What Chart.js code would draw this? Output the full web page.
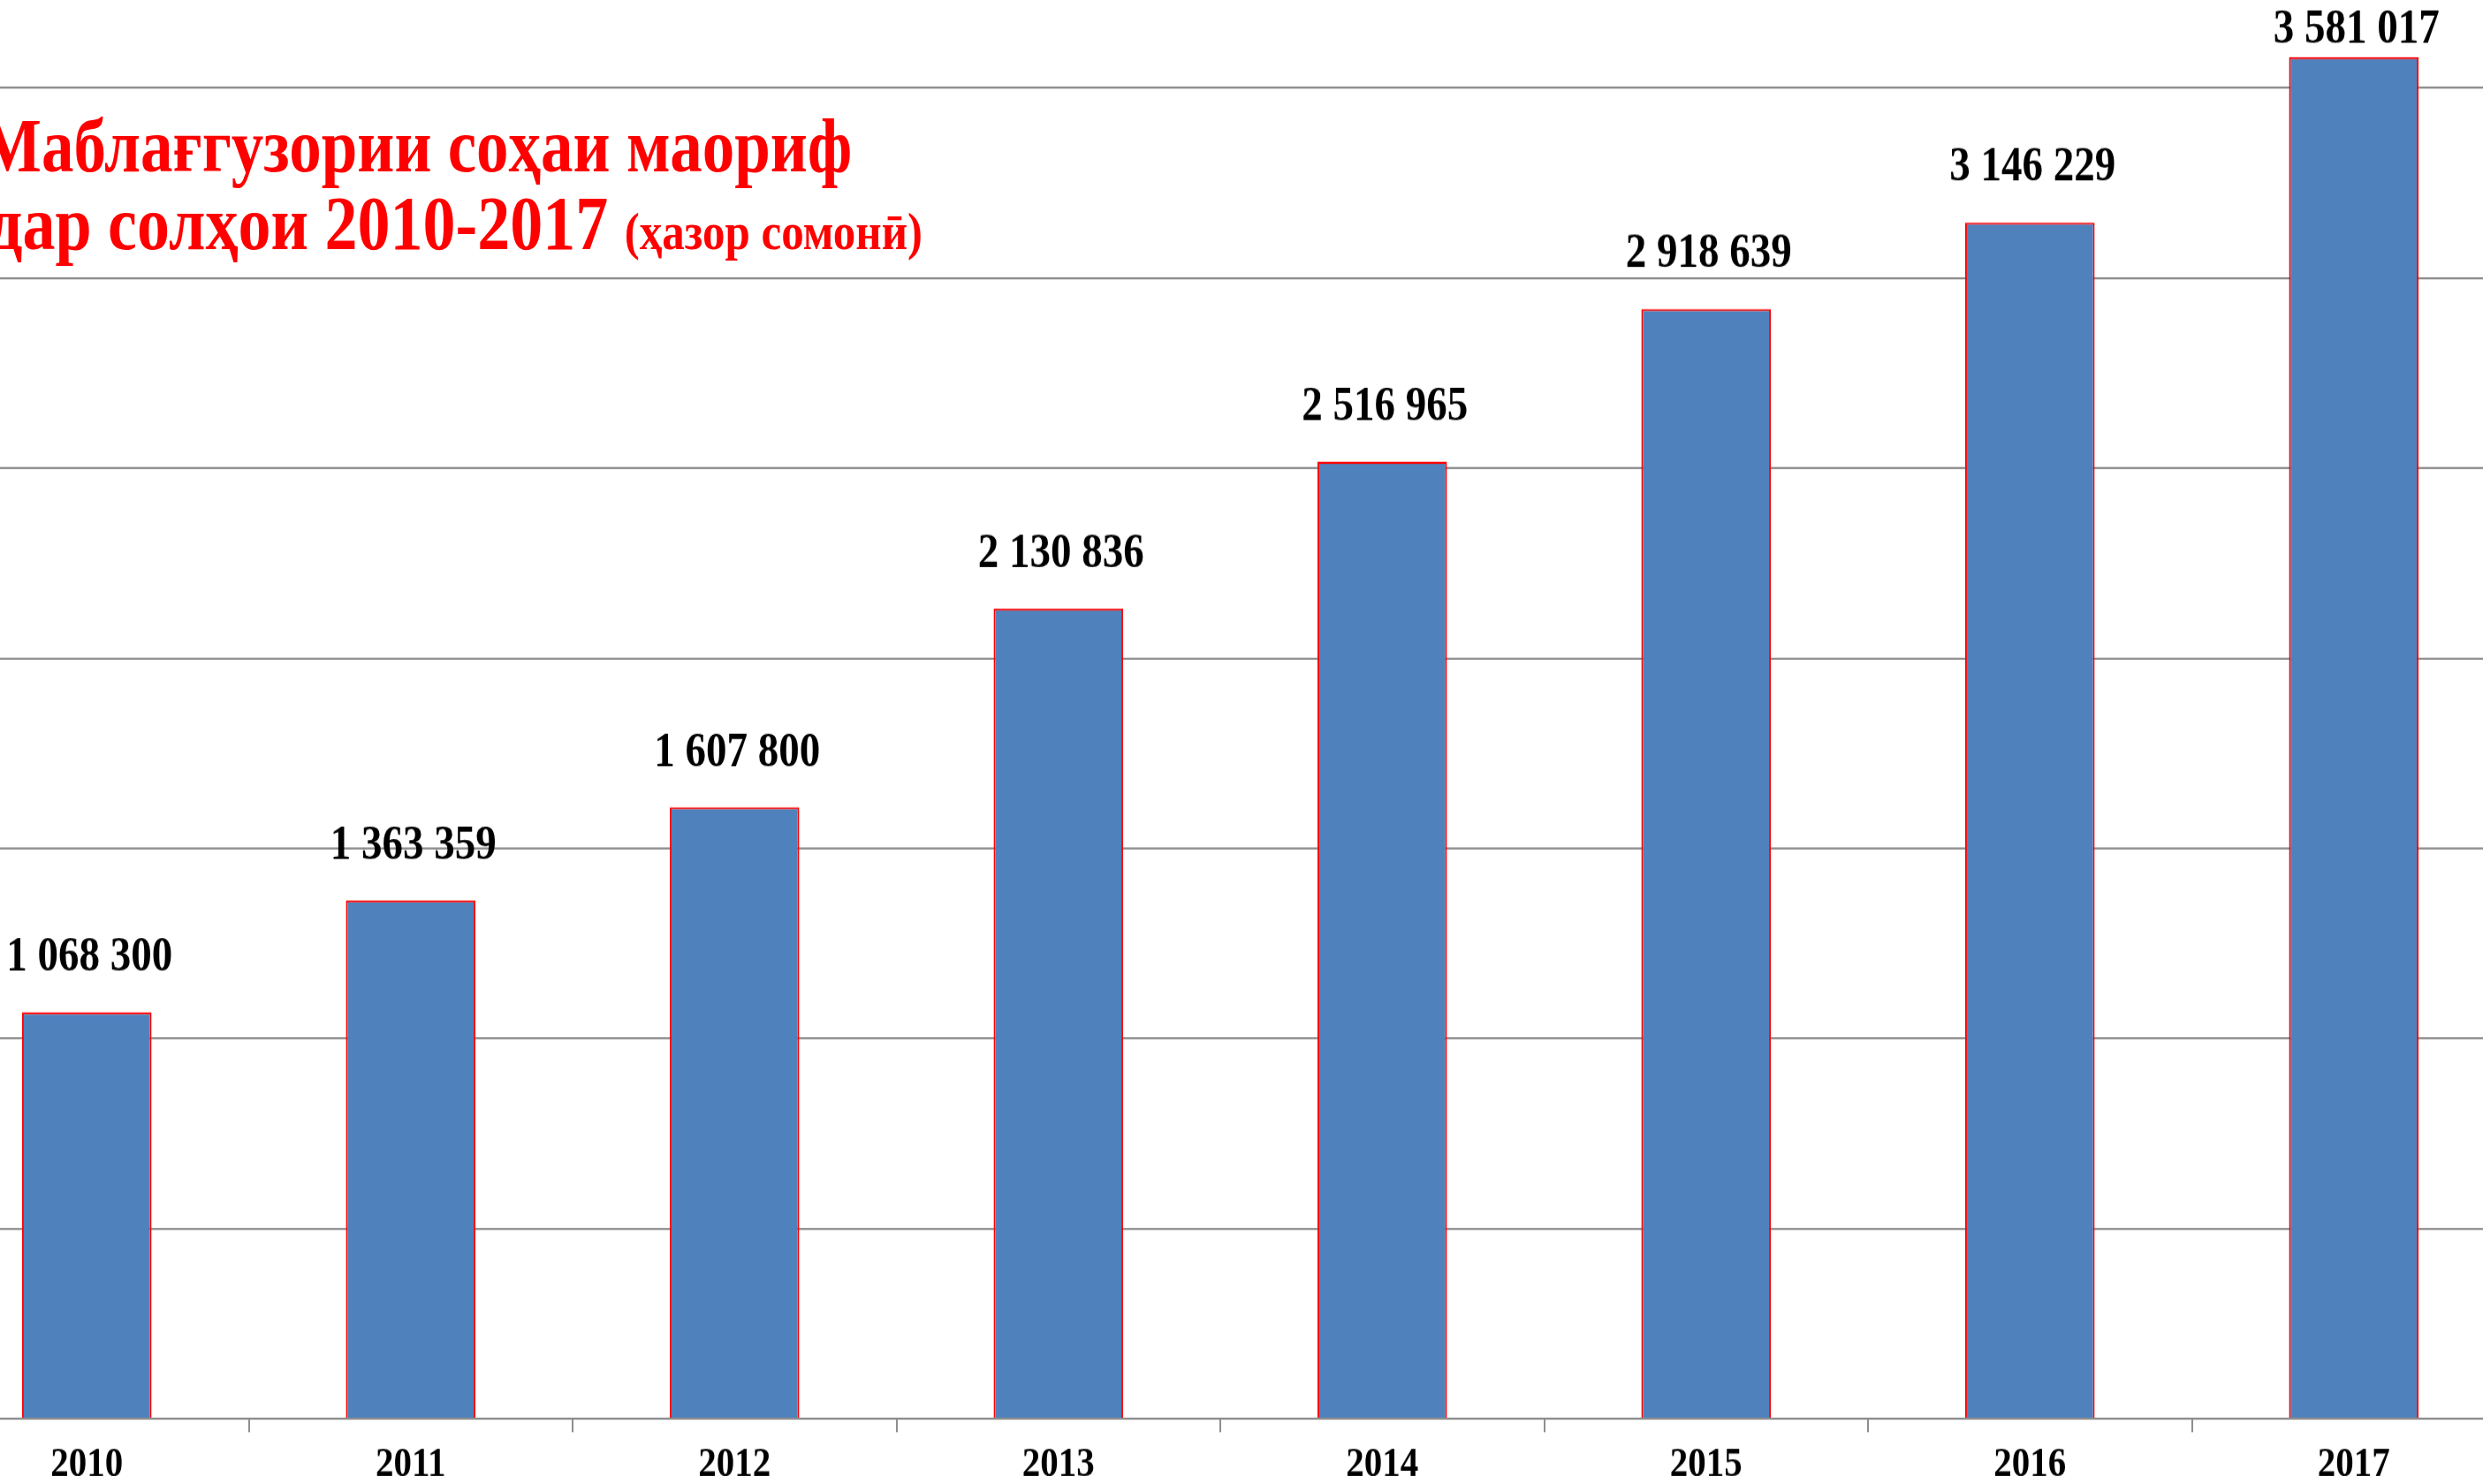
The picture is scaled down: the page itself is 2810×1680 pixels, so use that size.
<!DOCTYPE html>
<html>
<head>
<meta charset="utf-8">
<script src="https://cdn.jsdelivr.net/npm/chart.js@4.4.1/dist/chart.umd.min.js"></script>
<style>
  html, body { margin: 0; padding: 0; background: #fff; overflow: hidden; }
  #stage { position: relative; width: 2810px; height: 1680px; overflow: hidden; }
  /* the original slide is stretched vertically, so the whole drawing is scaled in y */
  #wrap { position: absolute; left: 0; top: 0; width: 2810px; height: 1424px;
          transform: scaleY(1.18); transform-origin: 0 0; }
  #chart { position: absolute; left: -85px; top: -98px; }
  .title { position: absolute; white-space: pre; color: #ff0000;
           font-family: "Liberation Serif", "Times New Roman", serif; font-weight: bold; line-height: 1; }
  .small { font-size: 51px; }
</style>
</head>
<body>
<div id="stage">
  <div id="wrap">
    <canvas id="chart" width="2932" height="1539"></canvas>
    <div class="title" style="left:-22px; top:103px; font-size:73px;">Маблағгузории соҳаи маориф</div>
    <div class="title" style="left:-12px; top:177px; font-size:74px;">дар солҳои 2010-2017 <span class="small">(ҳазор сомонӣ)</span></div>
  </div>
</div>
<script>
  // Data
  const years = ['2010', '2011', '2012', '2013', '2014', '2015', '2016', '2017'];
  const funding = [1068300, 1363359, 1607800, 2130836, 2516965, 2918639, 3146229, 3581017];
  const yMin = 0;
  const yMax = 4000000;
  const yStep = 500000;

  const gridGray = '#8e8e8e';

  // format 1068300 -> "1 068 300"
  function spaced(n) {
    return String(n).replace(/\B(?=(\d{3})+(?!\d))/g, ' ');
  }

  // value labels above each bar
  const valueLabels = {
    id: 'valueLabels',
    afterDatasetsDraw(chart) {
      const ctx = chart.ctx;
      const meta = chart.getDatasetMeta(0);
      ctx.save();
      ctx.font = 'bold 47px "Liberation Serif", "Times New Roman", serif';
      ctx.fillStyle = '#000';
      ctx.textAlign = 'center';
      ctx.textBaseline = 'alphabetic';
      meta.data.forEach((bar, i) => {
        let y = bar.y - 40;
        if (y < 139) y = 139; // keep the top label inside the picture
        ctx.fillText(spaced(funding[i]), bar.x + 3, y);
      });
      ctx.restore();
    }
  };

  new Chart(document.getElementById('chart'), {
    type: 'bar',
    data: {
      labels: years,
      datasets: [{
        data: funding,
        backgroundColor: '#4f81bd',
        borderColor: '#ff0000',
        borderWidth: 2,
        categoryPercentage: 1,
        barPercentage: 0.4
      }]
    },
    options: {
      responsive: false,
      animation: false,
      devicePixelRatio: 1,
      layout: { padding: 0 },
      plugins: { legend: { display: false }, tooltip: { enabled: false } },
      scales: {
        x: {
          grid: { offset: true, drawOnChartArea: false, drawTicks: true, tickLength: 13, color: gridGray, lineWidth: 2 },
          border: { display: true, color: gridGray, width: 2 },
          ticks: {
            color: '#000',
            padding: 7,
            maxRotation: 0,
            font: { family: '"Liberation Serif", "Times New Roman", serif', size: 41, weight: 'bold' }
          },
          afterFit: s => { s.height = 80; }
        },
        y: {
          min: yMin,
          max: yMax,
          ticks: { display: false, stepSize: yStep },
          grid: { color: gridGray, lineWidth: 2, drawTicks: false },
          border: { display: false },
          afterFit: s => { s.width = 0; }
        }
      }
    },
    plugins: [valueLabels]
  });
</script>
</body>
</html>
